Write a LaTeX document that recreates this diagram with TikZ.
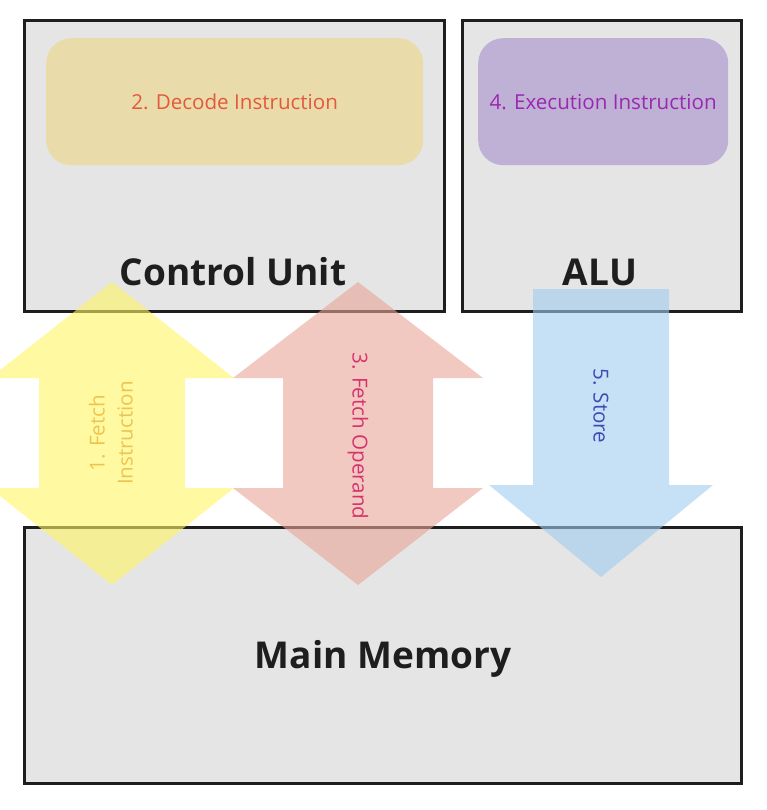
\documentclass[tikz,border=0pt]{standalone}
\usepackage{fontspec}
\setmainfont{Open Sans}
\definecolor{boxgray}{RGB}{229,229,229}
\definecolor{boxline}{RGB}{30,30,30}
\definecolor{decfill}{RGB}{233,220,170}
\definecolor{dectext}{RGB}{228,88,59}
\definecolor{exefill}{RGB}{191,176,213}
\definecolor{exetext}{RGB}{156,39,176}
\definecolor{yelarrow}{RGB}{255,245,100}
\definecolor{redarrow}{RGB}{233,165,150}
\definecolor{bluarrow}{RGB}{160,203,238}
\definecolor{yeltext}{RGB}{238,196,80}
\definecolor{redtext}{RGB}{214,50,110}
\definecolor{blutext}{RGB}{60,75,180}
\begin{document}
\begin{tikzpicture}[x=1pt,y=-1pt,
  unitbox/.style={draw=boxline, fill=boxgray, line width=3pt, rectangle, anchor=north west, inner sep=0pt},
  stagebox/.style={rectangle, rounded corners=25pt, anchor=north west, inner sep=0pt},
  stagetext/.style={font=\fontsize{20.6}{28}\selectfont, inner sep=0pt},
  titletext/.style={font=\fontsize{37}{44}\selectfont\bfseries, anchor=base, inner sep=0pt, text=boxline},
  arrowshape/.style={fill opacity=0.6, draw=none}]
\useasboundingbox (0,0) rectangle (766,810);
% boxes
\node[unitbox, minimum width=420pt, minimum height=291pt] (cu) at (23,19) {};
\node[unitbox, minimum width=279pt, minimum height=291pt] (alu) at (461,19) {};
\node[unitbox, minimum width=717pt, minimum height=256pt] (mem) at (23,526) {};
% inner stage boxes
\node[stagebox, fill=decfill, minimum width=377pt, minimum height=127pt] (dec) at (46,38) {};
\node[stagebox, fill=exefill, minimum width=250pt, minimum height=127pt] (exe) at (478,38) {};
\node[stagetext, text=dectext] (dect) at (dec.center) {2. Decode Instruction};
\node[stagetext, text=exetext] (exet) at (exe.center) {4. Execution Instruction};
% arrows
\fill[arrowshape, yelarrow] (112,282) -- (234,378) -- (185,378) -- (185,488) -- (234,488) -- (112,585) -- (-10,488) -- (39,488) -- (39,378) -- (-10,378) -- cycle;
\fill[arrowshape, redarrow] (358,282) -- (483,378) -- (433,378) -- (433,488) -- (483,488) -- (358,585) -- (233,488) -- (283,488) -- (283,378) -- (233,378) -- cycle;
\fill[arrowshape, bluarrow] (533,289) -- (669,289) -- (669,485) -- (713,485) -- (601,577) -- (489,485) -- (533,485) -- cycle;
% arrow labels
\node[stagetext, text=yeltext, rotate=90, align=center] (l1) at (111,433) {1. Fetch\\Instruction};
\node[stagetext, text=redtext, rotate=-90] (l3) at (358,436) {3. Fetch Operand};
\node[stagetext, text=blutext, rotate=-90] (l5) at (601,406) {5. Store};
% titles
\node[titletext] (cut) at (233,285) {Control Unit};
\node[titletext] (alut) at (600,285) {ALU};
\node[titletext] (memt) at (383,668) {Main Memory};
\end{tikzpicture}
\end{document}
